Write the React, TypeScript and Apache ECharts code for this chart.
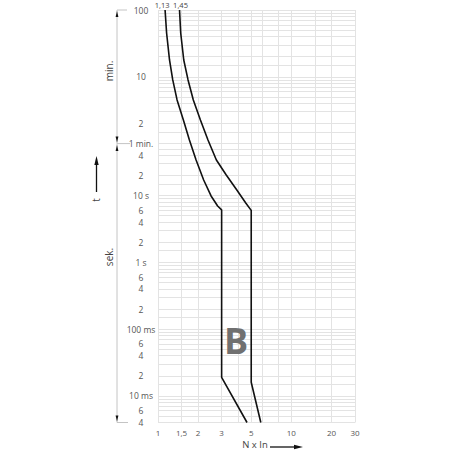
import React, { useEffect, useRef } from "react";
import * as echarts from "echarts";

// X axis (multiple of rated current N x In)
const xTickValues = [1, 1.5, 2, 3, 5, 10, 20, 30];
const xGridValues = [1, 1.5, 2, 3, 4, 5, 6, 8, 10, 15, 20, 30];

// Y axis (trip time in seconds)
const yTickValues = [6000, 600, 120, 60, 40, 20, 10, 6, 4, 2, 1, 0.6, 0.4, 0.2, 0.1, 0.06, 0.04, 0.02, 0.01, 0.006, 0.004];
const yTickLabels = ["100", "10", "2", "1 min.", "4", "2", "10 s", "6", "4", "2", "1 s", "6", "4", "2", "100 ms", "6", "4", "2", "10 ms", "6", "4"];
const secondDecades = [0.001, 0.01, 0.1, 1];
const secondMultipliers = [1, 1.5, 2, 3, 4, 5, 6, 7, 8, 9];
const tensOfSeconds = [10, 15, 20, 30, 40, 50];
const minuteGrid = [1, 1.5, 2, 3, 4, 5, 6, 7, 8, 9, 10, 15, 20, 30, 40, 50, 60, 70, 80, 90, 100];

// Curve B – lower limit (1,13)
const lowerX = [1.13, 1.16, 1.22, 1.29, 1.39, 1.55, 1.72, 1.93, 2.2, 2.5, 2.8, 3, 3, 4.65];
const lowerT = [6000, 2717, 1071, 538, 270, 135, 67.9, 34.1, 17.1, 9.86, 6.98, 6.1, 0.019, 0.004];
// Curve B – upper limit (1,45)
const upperX = [1.45, 1.48, 1.56, 1.68, 1.84, 2.08, 2.37, 2.74, 3.25, 3.9, 4.55, 5, 5, 5.9];
const upperT = [6000, 2717, 1071, 538, 270, 135, 67.9, 34.1, 20.3, 12.1, 7.75, 6, 0.016, 0.004];
const curveNames = ["1,13", "1,45"];
const curveLabelShift = [-3, 1];

const FONT = "'Open Sans', 'Noto Sans', sans-serif";
const LABEL_COLOR = "#555555";

function buildYGrid(): number[] {
  const vals: number[] = [];
  secondDecades.forEach((d) => secondMultipliers.forEach((m) => vals.push(+(d * m).toPrecision(6))));
  tensOfSeconds.forEach((v) => vals.push(v));
  minuteGrid.forEach((m) => vals.push(m * 60));
  return vals.filter((v) => v >= 0.004 && v <= 6000);
}

function curveData(xs: number[], ts: number[], label: string, shift: number) {
  return xs.map((x, i) =>
    i === 0
      ? {
          value: [x, ts[i]],
          label: {
            show: true,
            position: "top",
            distance: 1,
            offset: [shift, 0],
            formatter: label,
            fontSize: 7.5,
            color: "#444444",
            textBorderWidth: 0,
            fontFamily: FONT,
          },
        }
      : { value: [x, ts[i]] }
  );
}

export default function App() {
  const ref = useRef<HTMLDivElement>(null);
  useEffect(() => {
    const chart = echarts.init(ref.current!, null, { renderer: "svg" });
    const gridColor = "#e3e3e3";
    const lbl = (v: number) => {
      let best = 0;
      let bd = Infinity;
      yTickValues.forEach((tv, i) => {
        const d = Math.abs(Math.log10(v) - Math.log10(tv));
        if (d < bd) {
          bd = d;
          best = i;
        }
      });
      return yTickLabels[best];
    };
    const arrow = (tipX: number, tipY: number, dir: "up" | "down" | "right", len = 6, half = 1.6) => {
      let pts: number[][];
      if (dir === "up") pts = [[tipX, tipY], [tipX - half, tipY + len], [tipX + half, tipY + len]];
      else if (dir === "down") pts = [[tipX, tipY], [tipX - half, tipY - len], [tipX + half, tipY - len]];
      else pts = [[tipX, tipY], [tipX - len, tipY - half], [tipX - len, tipY + half]];
      return { type: "polygon", z: 100, shape: { points: pts }, style: { fill: "#111" }, silent: true };
    };
    const line = (x1: number, y1: number, x2: number, y2: number, color = "#c4c4c4", w = 1) => ({
      type: "line",
      z: 100,
      shape: { x1, y1, x2, y2 },
      style: { stroke: color, lineWidth: w },
      silent: true,
    });
    const txt = (x: number, y: number, text: string, size: number, rot = 0, extra: any = {}) => ({
      type: "text",
      z: 100,
      x,
      y,
      rotation: rot,
      style: { text, fontSize: size, fontFamily: FONT, fill: "#444", align: "center", verticalAlign: "middle", ...extra },
      silent: true,
    });

    const seriesBase = {
      type: "line",
      showSymbol: true,
      symbol: "circle",
      symbolSize: 1,
      itemStyle: { color: "rgba(0,0,0,0)" },
      lineStyle: { color: "#111", width: 1.6 },
      clip: false,
      z: 5,
    };

    const option: any = {
      animation: false,
      backgroundColor: "#fff",
      textStyle: { color: LABEL_COLOR, fontFamily: FONT },
      grid: { left: 158, right: 95, top: 10, bottom: 27.5, containLabel: false },
      xAxis: {
        type: "log",
        logBase: 10,
        min: 1,
        max: 30,
        axisLine: { show: false },
        axisTick: { show: false, customValues: xGridValues },
        splitLine: { show: true, lineStyle: { color: gridColor, width: 1 } },
        axisLabel: {
          customValues: xTickValues,
          margin: 6,
          fontSize: 8,
          color: LABEL_COLOR,
          fontFamily: FONT,
          formatter: (v: number) => String(+v.toPrecision(4)).replace(".", ","),
        },
      },
      yAxis: {
        type: "log",
        logBase: 10,
        min: 0.004,
        max: 6000,
        axisLine: { show: false },
        axisTick: { show: false, customValues: buildYGrid() },
        splitLine: { show: true, lineStyle: { color: gridColor, width: 1 } },
        axisLabel: {
          customValues: yTickValues,
          margin: 17,
          align: "center",
          fontSize: 8.5,
          color: LABEL_COLOR,
          fontFamily: FONT,
          formatter: lbl,
        },
      },
      series: [
        { ...seriesBase, data: curveData(lowerX, lowerT, curveNames[0], curveLabelShift[0]) },
        { ...seriesBase, data: curveData(upperX, upperT, curveNames[1], curveLabelShift[1]) },
      ],
      graphic: [
        // left time bracket
        line(117, 10, 117, 422.5),
        line(117, 10, 127, 10),
        line(117, 143.6, 130, 143.6),
        line(117, 422.5, 128, 422.5),
        arrow(117, 11, "up", 6, 1.4),
        arrow(117, 142.5, "down", 6, 1.4),
        arrow(117, 145, "up", 6, 1.4),
        arrow(117, 421.5, "down", 6, 1.4),
        txt(109, 71, "min.", 10, Math.PI / 2),
        txt(109, 257, "sek.", 10, Math.PI / 2),
        // t arrow
        line(96.5, 192, 96.5, 162, "#111", 1.3),
        arrow(96.5, 156, "up", 9, 2.2),
        txt(96, 200, "t", 10, Math.PI / 2),
        // x axis name
        txt(255, 444.5, "N x In", 9.5),
        line(270, 447, 296, 447, "#111", 1.3),
        arrow(303, 447, "right", 9, 2.2),
        // curve characteristic letter
        txt(236, 340, "B", 36, 0, { fontWeight: "bold", fill: "#707070" }),
      ],
    };
    chart.setOption(option);
    return () => chart.dispose();
  }, []);
  return <div ref={ref} style={{ position: "fixed", left: 0, top: 0, width: 450, height: 450, background: "#fff" }} />;
}
